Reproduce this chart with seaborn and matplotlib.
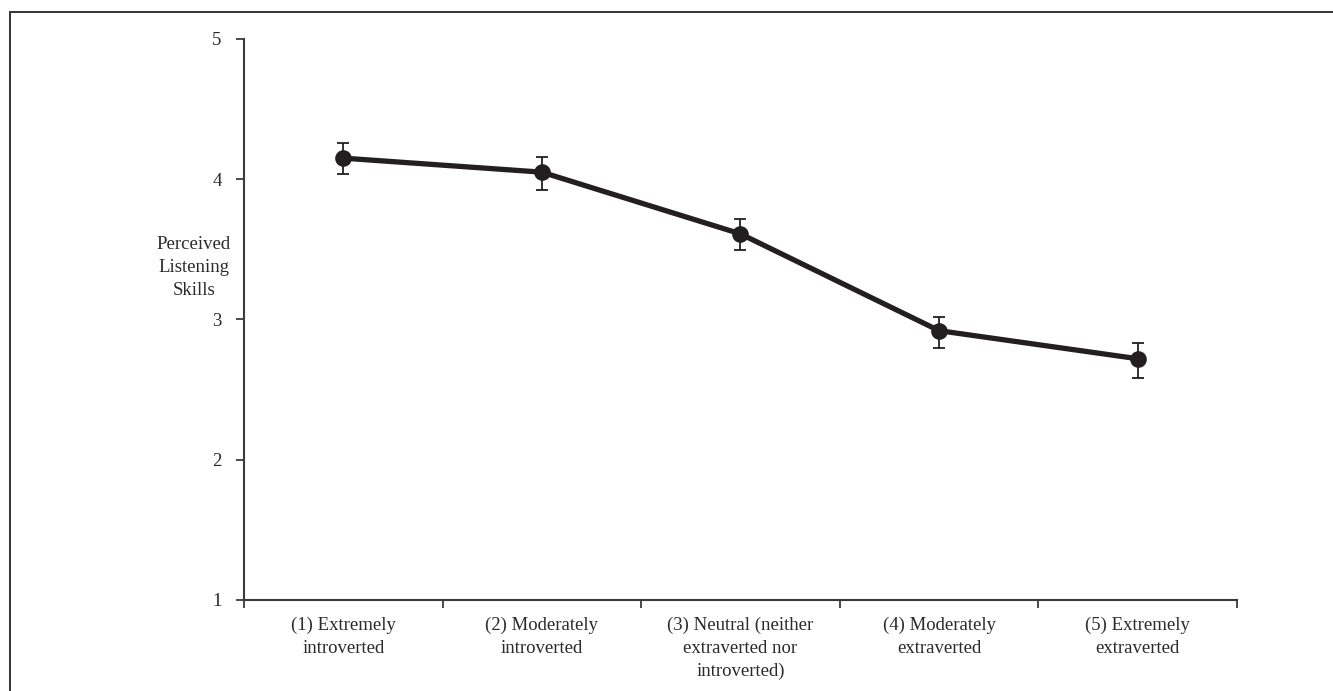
import matplotlib
matplotlib.use("Agg")
import matplotlib.pyplot as plt
import seaborn as sns
import numpy as np
import pandas as pd
from matplotlib.patches import Rectangle

# Group means and asymmetric error-bar bounds
categories = [
    "(1) Extremely\nintroverted",
    "(2) Moderately\nintroverted",
    "(3) Neutral (neither\nextraverted nor\nintroverted)",
    "(4) Moderately\nextraverted",
    "(5) Extremely\nextraverted",
]
means = [4.15, 4.05, 3.61, 2.92, 2.72]
upper = [4.26, 4.155, 3.715, 3.015, 2.83]
lower = [4.035, 3.925, 3.495, 2.80, 2.585]
y_ticks = [1, 2, 3, 4, 5]

sns.set_theme(style="white")
plt.rcParams["font.family"] = ["Liberation Serif", "DejaVu Serif"]

ink = "#231f20"
axis_col = "#3a3a3a"
text_col = "#2a2a2a"
fs = 13.5

fig = plt.figure(figsize=(13.33, 6.91), dpi=100)
ax = fig.add_axes([0.183, 0.1317, 0.745, 0.812])

pos = np.arange(len(categories))
df = pd.DataFrame({"pos": pos, "mean": means})
sns.lineplot(data=df, x="pos", y="mean", ax=ax, color=ink, linewidth=3.8,
             marker="o", markersize=12, markeredgewidth=0, markerfacecolor=ink)

yerr = np.array([np.array(means) - np.array(lower), np.array(upper) - np.array(means)])
ax.errorbar(pos, means, yerr=yerr, fmt="none", ecolor=ink, elinewidth=1.3,
            capsize=4.2, capthick=1.3, zorder=1)

ax.set_xlim(-0.5, len(categories) - 0.5)
ax.set_ylim(1, 5)
ax.set_yticks(y_ticks)
ax.set_yticklabels([str(t) for t in y_ticks])

# Category boundaries carry the tick marks; labels sit at the category centres
ax.set_xticks(np.arange(-0.5, len(categories), 1.0))
ax.set_xticklabels([])
ax.set_xticks(pos, minor=True)
ax.set_xticklabels(categories, minor=True, fontsize=fs, color=text_col,
                   linespacing=1.45)
ax.tick_params(axis="x", which="minor", length=0, pad=12)
ax.tick_params(axis="x", which="major", direction="out", length=6, width=1.3,
               color=axis_col, bottom=True)
ax.tick_params(axis="y", direction="out", length=6, width=1.3, color=axis_col,
               left=True, labelsize=fs, labelcolor=text_col, pad=10)

for side in ["top", "right"]:
    ax.spines[side].set_visible(False)
for side in ["left", "bottom"]:
    ax.spines[side].set_color(axis_col)
    ax.spines[side].set_linewidth(1.5)

ax.set_xlabel("")
ax.set_ylabel("")
fig.text(0.1455, 0.6125, "Perceived\nListening\nSkills", ha="center", va="center",
         fontsize=fs, color=text_col, linespacing=1.45)

# Outer frame around the figure
fig.patches.append(Rectangle((10 / 1333, -0.1), 1.2, 1 - 12 / 691 + 0.1,
                             transform=fig.transFigure, fill=False,
                             edgecolor="#333333", linewidth=1.4))

fig.savefig("out.png", dpi=100)
